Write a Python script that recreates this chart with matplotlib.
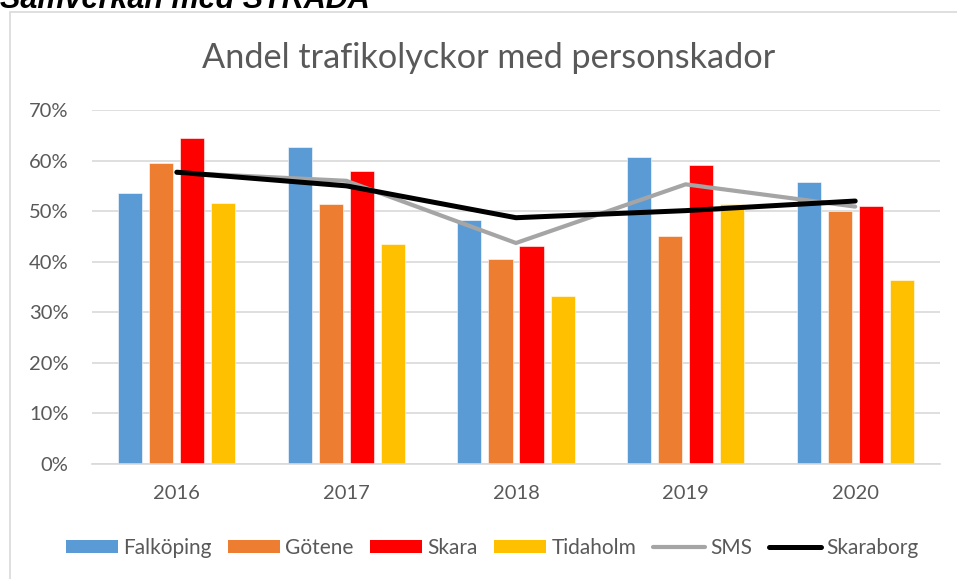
import matplotlib
matplotlib.use("Agg")
import matplotlib.pyplot as plt
import numpy as np
from matplotlib.patches import Patch, Rectangle
from matplotlib.lines import Line2D
from matplotlib.ticker import PercentFormatter

plt.rcParams['font.family'] = ['Lato', 'DejaVu Sans']

years = ["2016", "2017", "2018", "2019", "2020"]
falkoping = [53.6, 62.7, 48.2, 60.7, 55.8]
gotene = [59.5, 51.4, 40.5, 45.1, 50.0]
skara = [64.5, 57.9, 43.1, 59.1, 51.0]
tidaholm = [51.7, 43.5, 33.3, 51.4, 36.3]
sms = [57.6, 56.0, 43.7, 55.3, 50.9]
skaraborg = [57.7, 55.0, 48.7, 50.1, 52.0]

bar_series = [("Falköping", falkoping, "#5B9BD5"),
              ("Götene", gotene, "#ED7D31"),
              ("Skara", skara, "#FF0000"),
              ("Tidaholm", tidaholm, "#FFC000")]
line_series = [("SMS", sms, "#A5A5A5", 3.0),
               ("Skaraborg", skaraborg, "#000000", 3.6)]

W, H = 957, 579
fig = plt.figure(figsize=(W / 100, H / 100), dpi=100)

# chart frame
fig.patches.append(Rectangle((10 / W, -0.05), 1.2, 1 - 11.5 / H + 0.05,
                             transform=fig.transFigure, fill=False,
                             edgecolor="#D9D9D9", linewidth=1.2))

# heading above the chart (cut by the top edge, as in the source)
fig.text(0 / W, 1 - 8 / H, "Samverkan med STRADA", fontsize=22,
         fontweight="bold", fontstyle="italic", color="black",
         ha="left", va="baseline", family=["Liberation Sans", "DejaVu Sans"])

ax = fig.add_axes([92 / W, 1 - 464 / H, (940 - 92) / W, (464 - 110) / H])
x = np.arange(len(years))
step = 0.183
width = 0.142
for i, (name, vals, col) in enumerate(bar_series):
    ax.bar(x + (i - 1.5) * step, vals, width=width, color=col,
           label=name, zorder=2, edgecolor="white", linewidth=0.4)
for name, vals, col, lw in line_series:
    ax.plot(x, vals, color=col, linewidth=lw, solid_capstyle="round",
            solid_joinstyle="round", zorder=3, label=name)

ax.set_xlim(-0.5, len(years) - 0.5)
ax.set_ylim(0, 70)
ax.set_yticks(np.arange(0, 71, 10))
ax.yaxis.set_major_formatter(PercentFormatter(decimals=0))
ax.set_xticks(x)
ax.set_xticklabels(years)
ax.grid(axis="y", color="#D9D9D9", linewidth=1.2, zorder=0)
ax.set_axisbelow(True)
for s in ["top", "right", "left"]:
    ax.spines[s].set_visible(False)
ax.spines["bottom"].set_color("#D9D9D9")
ax.spines["bottom"].set_linewidth(1.2)
ax.tick_params(axis="both", length=0, labelsize=14.5, colors="#595959")
ax.tick_params(axis="y", pad=17)
ax.tick_params(axis="x", pad=15)

fig.text(489 / W, 1 - 68 / H, "Andel trafikolyckor med personskador",
         fontsize=24.7, color="#595959", ha="center", va="baseline")

handles = [Patch(facecolor=c, edgecolor="none", label=n) for n, _, c in bar_series]
handles += [Line2D([0], [0], color=c, linewidth=lw, solid_capstyle="round", label=n)
            for n, _, c, lw in line_series]
leg = fig.legend(handles=handles, loc="center", bbox_to_anchor=(492 / W, 1 - 548 / H),
                 ncol=6, frameon=False, fontsize=15, handlelength=2.5,
                 handleheight=0.58, handletextpad=0.24, columnspacing=0.8)
for t in leg.get_texts():
    t.set_color("#595959")

fig.savefig("out.png", dpi=100)
